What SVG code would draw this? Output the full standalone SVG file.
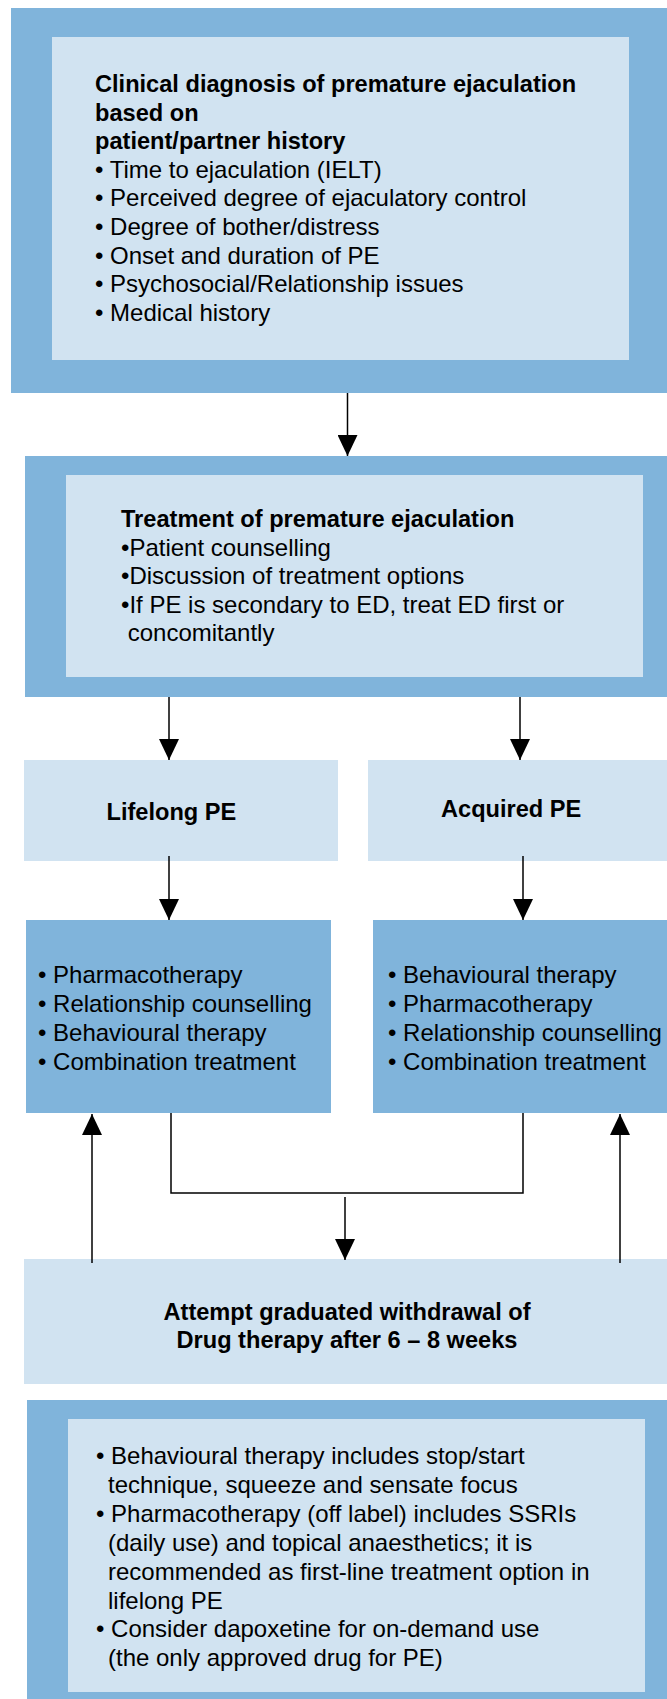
<svg xmlns="http://www.w3.org/2000/svg" width="667" height="1699" viewBox="0 0 667 1699">
<style>
.dark{fill:#80b4db}
.light{fill:#d1e3f1}
.t{font-family:"Liberation Sans",Arial,Helvetica,sans-serif;font-size:24px;fill:#000}
.b{font-family:"Liberation Sans",Arial,Helvetica,sans-serif;font-size:23.6px;font-weight:bold;fill:#000}
.c{text-anchor:middle}
.ln{stroke:#000;stroke-width:1.5;fill:none}
</style>
<defs>
<marker id="ah" viewBox="0 0 21 20" refX="21" refY="10" markerWidth="21" markerHeight="20" markerUnits="userSpaceOnUse" orient="auto">
<path d="M0,0 L21,10 L0,20 Z" fill="#000"/>
</marker>
</defs>
<rect width="667" height="1699" fill="#fff"/>
<g id="diagnosis">
<rect class="dark" x="11" y="8" width="656" height="385"/>
<rect class="light" x="52" y="37" width="577" height="323"/>
<text class="b" x="95" y="92">Clinical diagnosis of premature ejaculation</text>
<text class="b" x="95" y="120.6">based on</text>
<text class="b" x="95" y="149.2">patient/partner history</text>
<text class="t" x="95" y="177.8">• Time to ejaculation (IELT)</text>
<text class="t" x="95" y="206.4">• Perceived degree of ejaculatory control</text>
<text class="t" x="95" y="235">• Degree of bother/distress</text>
<text class="t" x="95" y="263.6">• Onset and duration of PE</text>
<text class="t" x="95" y="292.2">• Psychosocial/Relationship issues</text>
<text class="t" x="95" y="320.8">• Medical history</text>
</g>
<g id="treatment">
<rect class="dark" x="25" y="456" width="642" height="241"/>
<rect class="light" x="66" y="475" width="577" height="202"/>
<text class="b" x="121" y="527">Treatment of premature ejaculation</text>
<text class="t" x="121" y="555.6">•Patient counselling</text>
<text class="t" x="121" y="584.2">•Discussion of treatment options</text>
<text class="t" x="121" y="612.8">•If PE is secondary to ED, treat ED first or</text>
<text class="t" x="127.7" y="641.4">concomitantly</text>
</g>
<g id="lifelong">
<rect class="light" x="24" y="760" width="314" height="101"/>
<text class="b" x="106.5" y="820">Lifelong PE</text>
</g>
<g id="acquired">
<rect class="light" x="368" y="760" width="299" height="101"/>
<text class="b" x="441" y="816.7">Acquired PE</text>
</g>
<g id="lifelong-options">
<rect class="dark" x="26" y="920" width="305" height="193"/>
<text class="t" x="38" y="983">• Pharmacotherapy</text>
<text class="t" x="38" y="1012">• Relationship counselling</text>
<text class="t" x="38" y="1041">• Behavioural therapy</text>
<text class="t" x="38" y="1070">• Combination treatment</text>
</g>
<g id="acquired-options">
<rect class="dark" x="373" y="920" width="294" height="193"/>
<text class="t" x="388" y="983">• Behavioural therapy</text>
<text class="t" x="388" y="1012">• Pharmacotherapy</text>
<text class="t" x="388" y="1041">• Relationship counselling</text>
<text class="t" x="388" y="1070">• Combination treatment</text>
</g>
<g id="withdrawal">
<rect class="light" x="24" y="1259" width="643" height="125"/>
<text class="b c" x="347" y="1320">Attempt graduated withdrawal of</text>
<text class="b c" x="347" y="1348">Drug therapy after 6 – 8 weeks</text>
</g>
<g id="notes">
<rect class="dark" x="27" y="1400" width="640" height="299"/>
<rect class="light" x="68" y="1419" width="577" height="273"/>
<text class="t" x="96" y="1464">• Behavioural therapy includes stop/start</text>
<text class="t" x="108" y="1492.9">technique, squeeze and sensate focus</text>
<text class="t" x="96" y="1521.8">• Pharmacotherapy (off label) includes SSRIs</text>
<text class="t" x="108" y="1550.7">(daily use) and topical anaesthetics; it is</text>
<text class="t" x="108" y="1579.6">recommended as first-line treatment option in</text>
<text class="t" x="108" y="1608.5">lifelong PE</text>
<text class="t" x="96" y="1637.4">• Consider dapoxetine for on-demand use</text>
<text class="t" x="108" y="1666.3">(the only approved drug for PE)</text>
</g>
<g id="connectors">
<line class="ln" x1="347.5" y1="393" x2="347.5" y2="456" marker-end="url(#ah)"/>
<line class="ln" x1="169" y1="697" x2="169" y2="760" marker-end="url(#ah)"/>
<line class="ln" x1="520" y1="697" x2="520" y2="760" marker-end="url(#ah)"/>
<line class="ln" x1="169" y1="856" x2="169" y2="920" marker-end="url(#ah)"/>
<line class="ln" x1="523" y1="856" x2="523" y2="920" marker-end="url(#ah)"/>
<polyline class="ln" points="171,1113 171,1193 523,1193 523,1113"/>
<line class="ln" x1="345" y1="1197" x2="345" y2="1260" marker-end="url(#ah)"/>
<line class="ln" x1="92" y1="1263" x2="92" y2="1114" marker-end="url(#ah)"/>
<line class="ln" x1="620" y1="1263" x2="620" y2="1114" marker-end="url(#ah)"/>
</g>
</svg>
